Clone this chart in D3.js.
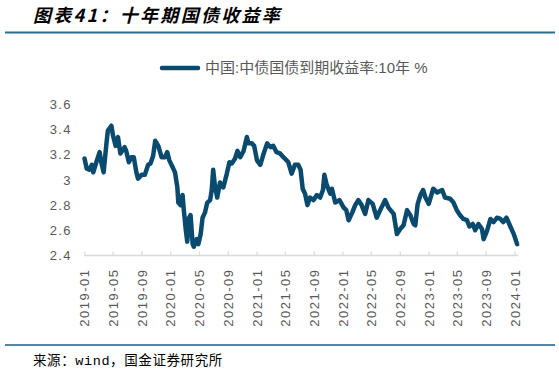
<!DOCTYPE html>
<html>
<head>
<meta charset="utf-8">
<script src="https://cdn.jsdelivr.net/npm/d3@7/dist/d3.min.js"></script>
<style>
  body { margin: 0; background: #fff; }
  svg { display: block; }
</style>
</head>
<body>
<svg id="chart"></svg>
<script>
// values
const dates = [
  '2019-01-02', '2019-01-11', '2019-01-22', '2019-02-02', '2019-02-08', '2019-02-21', '2019-03-07', '2019-03-14',
  '2019-03-24', '2019-04-05', '2019-04-11', '2019-04-26', '2019-05-03', '2019-05-14', '2019-05-24', '2019-06-03',
  '2019-06-21', '2019-06-28', '2019-07-09', '2019-07-20', '2019-07-30', '2019-08-10', '2019-08-17', '2019-09-01',
  '2019-09-15', '2019-09-29', '2019-10-09', '2019-10-20', '2019-10-29', '2019-11-11', '2019-11-25', '2019-12-09',
  '2019-12-19', '2019-12-28', '2020-01-11', '2020-01-21', '2020-01-31', '2020-02-04', '2020-02-14', '2020-02-22',
  '2020-02-27', '2020-03-07', '2020-03-13', '2020-03-21', '2020-03-27', '2020-04-05', '2020-04-10', '2020-04-22',
  '2020-04-29', '2020-05-09', '2020-05-17', '2020-05-27', '2020-06-06', '2020-06-18', '2020-06-25', '2020-07-01',
  '2020-07-08', '2020-07-18', '2020-07-30', '2020-08-13', '2020-08-28', '2020-09-08', '2020-09-18', '2020-10-02',
  '2020-10-12', '2020-10-24', '2020-11-07', '2020-11-21', '2020-11-28', '2020-12-12', '2020-12-22', '2021-01-03',
  '2021-01-17', '2021-01-29', '2021-02-15', '2021-03-01', '2021-03-13', '2021-03-27', '2021-04-11', '2021-04-25',
  '2021-05-09', '2021-05-16', '2021-05-30', '2021-06-13', '2021-06-27', '2021-07-07', '2021-07-16', '2021-07-26',
  '2021-08-05', '2021-08-16', '2021-08-31', '2021-09-14', '2021-09-28', '2021-10-10', '2021-10-16', '2021-10-26',
  '2021-11-10', '2021-11-17', '2021-12-01', '2021-12-19', '2022-01-06', '2022-01-17', '2022-01-27', '2022-02-11',
  '2022-02-24', '2022-03-09', '2022-03-23', '2022-04-07', '2022-04-21', '2022-05-09', '2022-05-26', '2022-06-10',
  '2022-07-01', '2022-07-15', '2022-08-06', '2022-08-20', '2022-09-03', '2022-09-17', '2022-10-02', '2022-10-16',
  '2022-10-30', '2022-11-06', '2022-11-16', '2022-11-28', '2022-12-09', '2022-12-19', '2023-01-02', '2023-01-21',
  '2023-02-07', '2023-02-28', '2023-03-12', '2023-04-03', '2023-04-17', '2023-05-01', '2023-05-15', '2023-05-29',
  '2023-06-13', '2023-06-24', '2023-07-08', '2023-07-18', '2023-08-01', '2023-08-16', '2023-08-23', '2023-09-07',
  '2023-09-21', '2023-10-04', '2023-10-19', '2023-11-02', '2023-11-14', '2023-11-28', '2023-12-12', '2023-12-29',
  '2024-01-12'
];
const yields = [
  3.17, 3.09, 3.08, 3.12, 3.06, 3.14, 3.22, 3.14,
  3.06, 3.29, 3.39, 3.43, 3.35, 3.27, 3.34, 3.21,
  3.26, 3.23, 3.14, 3.18, 3.18, 3.06, 3.01, 3.04,
  3.04, 3.12, 3.13, 3.19, 3.31, 3.27, 3.18, 3.18,
  3.22, 3.155, 3.10, 3.06, 2.94, 2.82, 2.80, 2.88,
  2.77, 2.60, 2.51, 2.70, 2.72, 2.49, 2.47, 2.53,
  2.49, 2.57, 2.70, 2.74, 2.82, 2.84, 2.92, 3.08,
  2.96, 2.86, 2.98, 2.94, 3.05, 3.14, 3.13, 3.17,
  3.23, 3.18, 3.23, 3.34, 3.29, 3.29, 3.27, 3.155,
  3.12, 3.195, 3.29, 3.26, 3.27, 3.22, 3.21, 3.18,
  3.155, 3.14, 3.05, 3.12, 3.12, 3.08, 2.93, 2.89,
  2.80, 2.86, 2.84, 2.88, 2.86, 2.92, 3.04, 2.96,
  2.89, 2.93, 2.82, 2.84, 2.78, 2.76, 2.68, 2.74,
  2.80, 2.84, 2.80, 2.73, 2.84, 2.81, 2.70, 2.76,
  2.84, 2.78, 2.73, 2.57, 2.61, 2.64, 2.76, 2.72,
  2.65, 2.64, 2.81, 2.88, 2.92, 2.86, 2.81, 2.93,
  2.90, 2.92, 2.86, 2.85, 2.82, 2.76, 2.72, 2.69,
  2.68, 2.63, 2.65, 2.60, 2.65, 2.61, 2.53, 2.60,
  2.69, 2.665, 2.70, 2.69, 2.665, 2.70, 2.64, 2.57,
  2.49
];
const yTicks = [2.4, 2.6, 2.8, 3.0, 3.2, 3.4, 3.6];
const xStart = '2019-01-01';
const xEnd = '2024-01-01';
const seriesName = '中国:中债国债到期收益率:10年 %';
const title = '图表41：十年期国债收益率';
const source = '来源：wind，国金证券研究所';

const W = 559, H = 373;
const lineColor = '#0a4a6e';
const axisGray = '#d9d9d9';
const textGray = '#595959';
const parse = d3.timeParse('%Y-%m-%d');
const data = dates.map((d, i) => ({ date: parse(d), value: yields[i] }));

const svg = d3.select('#chart').attr('width', W).attr('height', H);

// header
svg.append('text')
  .attr('x', 33).attr('y', 22)
  .attr('font-family', '"Noto Sans CJK SC", sans-serif')
  .attr('font-size', 18).attr('font-weight', 'bold').attr('font-style', 'italic')
  .attr('letter-spacing', 2.3)
  .attr('fill', '#000')
  .text(title);
svg.append('line')
  .attr('x1', 5).attr('x2', 555).attr('y1', 32.5).attr('y2', 32.5)
  .attr('stroke', '#2a6b98').attr('stroke-width', 2);

// scales
const x = d3.scaleTime()
  .domain([parse(xStart), parse(xEnd)])
  .range([84.3, 514.5]);
const y = d3.scaleLinear()
  .domain([2.4, 3.6])
  .range([255.5, 104.3]);

// y axis labels only
const yAxis = svg.append('g')
  .attr('transform', 'translate(72,0)')
  .call(d3.axisLeft(y).tickValues(yTicks).tickSize(0).tickPadding(0)
    .tickFormat(d => d3.format('')(+d.toFixed(1))));
yAxis.select('.domain').remove();
yAxis.selectAll('text')
  .attr('font-family', '"Liberation Sans", Arial, sans-serif')
  .attr('font-size', 13).attr('letter-spacing', 1.4)
  .attr('fill', textGray);

// x axis
const lastDate = data[data.length - 1].date;
const xAxis = svg.append('g')
  .attr('transform', `translate(0,${y(2.4)})`)
  .call(d3.axisBottom(x).ticks(d3.timeMonth.every(4)).tickSizeInner(-4).tickSizeOuter(0)
    .tickFormat(d3.timeFormat('%Y-%m')));
xAxis.select('.domain')
  .attr('d', `M${x.range()[0]},0H${x(lastDate) + 1}`)
  .attr('stroke', axisGray).attr('stroke-width', 1.5);
xAxis.selectAll('.tick line').attr('stroke', axisGray).attr('stroke-width', 1.2);
xAxis.selectAll('.tick text')
  .attr('font-family', '"Liberation Sans", Arial, sans-serif')
  .attr('font-size', 13).attr('letter-spacing', 1.5)
  .attr('fill', textGray)
  .attr('text-anchor', 'end')
  .attr('dy', '0.35em')
  .attr('y', 0)
  .attr('transform', 'translate(0,13) rotate(-90)');

// series line
svg.append('path')
  .datum(data)
  .attr('fill', 'none')
  .attr('stroke', lineColor)
  .attr('stroke-width', 4.5)
  .attr('stroke-linejoin', 'round')
  .attr('stroke-linecap', 'round')
  .attr('d', d3.line().x(d => x(d.date)).y(d => y(d.value)));

// legend
const legend = svg.append('g').attr('transform', 'translate(160,68)');
legend.append('line')
  .attr('x1', 2).attr('x2', 38).attr('y1', 0).attr('y2', 0)
  .attr('stroke', lineColor).attr('stroke-width', 4.5).attr('stroke-linecap', 'round');
legend.append('text')
  .attr('x', 45).attr('y', 0).attr('dy', '0.36em')
  .attr('font-family', '"Liberation Sans", "Noto Sans CJK SC", sans-serif')
  .attr('font-size', 15)
  .attr('fill', textGray)
  .text(seriesName);

// footer
svg.append('line')
  .attr('x1', 5).attr('x2', 555).attr('y1', 345).attr('y2', 345)
  .attr('stroke', '#1f5a85').attr('stroke-width', 1.5);
svg.append('text')
  .attr('x', 33).attr('y', 365)
  .attr('font-family', '"Liberation Mono", "Noto Sans CJK SC", monospace')
  .attr('font-size', 13.5)
  .attr('letter-spacing', 0.6)
  .attr('fill', '#000')
  .text(source);
</script>
</body>
</html>
